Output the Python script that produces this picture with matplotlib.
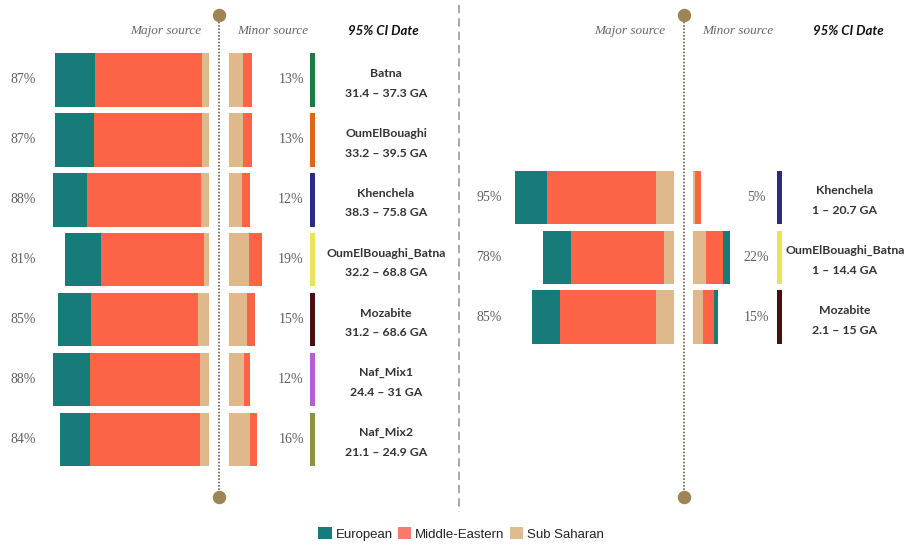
# 混合来源比例图：左右两个面板，主/次来源堆叠条形 + 时间区间标签
import matplotlib.pyplot as plt
from matplotlib.patches import Patch
from matplotlib.lines import Line2D

plt.rcParams['font.family'] = ['Liberation Sans', 'DejaVu Sans']

# ---------------- 数据 ----------------
components = ['European', 'Middle-Eastern', 'Sub Saharan']
comp_colors = {'European': '#177b79', 'Middle-Eastern': '#fd6346', 'Sub Saharan': '#dfb98c'}
legend_colors = ['#177b79', '#f57b6b', '#e0bb8e']

# 左面板
left_names = ['Batna', 'OumElBouaghi', 'Khenchela', 'OumElBouaghi_Batna',
              'Mozabite', 'Naf_Mix1', 'Naf_Mix2']
left_dates = ['31.4 – 37.3 GA', '33.2 – 39.5 GA', '38.3 – 75.8 GA', '32.2 – 68.8 GA',
              '31.2 – 68.6 GA', '24.4 – 31 GA', '21.1 – 24.9 GA']
left_major_pct = [87, 87, 88, 81, 85, 88, 84]
left_minor_pct = [13, 13, 12, 19, 15, 12, 16]
# 主来源组成 (European, Middle-Eastern, Sub Saharan)
left_major_euro = [23, 22, 19, 20, 18.5, 21, 17]
left_major_me = [60, 61, 64.5, 58, 60, 61.6, 61.7]
left_major_ss = [4, 4, 4.5, 3, 6.5, 5.4, 5.3]
# 次来源组成
left_minor_ss = [8, 8, 7.8, 11.2, 10.5, 8.8, 12.2]
left_minor_me = [5, 5, 4.2, 7.8, 4.5, 3.2, 3.8]
left_minor_euro = [0, 0, 0, 0, 0, 0, 0]
left_tag_colors = ['#1f7a42', '#d8691c', '#2d2a82', '#ece25c', '#4a0f0e', '#b55fd2', '#8d9441']

# 右面板
right_names = ['Khenchela', 'OumElBouaghi_Batna', 'Mozabite']
right_dates = ['1 – 20.7 GA', '1 – 14.4 GA', '2.1 – 15 GA']
right_major_pct = [95, 78, 85]
right_minor_pct = [5, 22, 15]
right_major_euro = [18.9, 16.3, 16.9]
right_major_me = [65.3, 55.4, 57.4]
right_major_ss = [10.8, 6.3, 10.7]
right_minor_ss = [1.2, 7.8, 6.4]
right_minor_me = [3.8, 10.3, 6.3]
right_minor_euro = [0, 3.9, 2.3]
right_tag_colors = ['#2d2a82', '#ece25c', '#4a0f0e']
right_row_start = 2  # 右面板从第3行开始

# ---------------- 绘图 ----------------
fig = plt.figure(figsize=(9.06, 5.48), dpi=100)
W, H = 906, 548
split_x = 459
row0_px, row_px = 80, 59.9
ylim = ((H - row0_px) / row_px, -row0_px / row_px)
bar_h = 0.893
gap = 5.4
dot_color = '#9f8454'
gray = '#5f5f5f'


def draw_panel(ax, rows, names, dates, major_pct, minor_pct,
               maj_eu, maj_me, maj_ss, min_ss, min_me, min_eu, tag_colors,
               pct_x, minor_pct_x, tag_x, label_x):
    for i, y in enumerate(rows):
        # 主来源：从中心线向左堆叠 (SS 最靠近中心)
        total = maj_eu[i] + maj_me[i] + maj_ss[i]
        start = -gap - total
        for val, comp in zip([maj_eu[i], maj_me[i], maj_ss[i]], components):
            ax.barh(y, val, left=start, height=bar_h, color=comp_colors[comp], linewidth=0)
            start += val
        # 次来源：从中心线向右堆叠
        start = gap
        for val, comp in zip([min_ss[i], min_me[i], min_eu[i]],
                             ['Sub Saharan', 'Middle-Eastern', 'European']):
            if val > 0:
                ax.barh(y, val, left=start, height=bar_h, color=comp_colors[comp], linewidth=0)
            start += val
        ax.text(pct_x, y, f'{major_pct[i]}%', ha='center', va='center',
                family='Liberation Serif', fontsize=10, color=gray)
        ax.text(minor_pct_x, y, f'{minor_pct[i]}%', ha='center', va='center',
                family='Liberation Serif', fontsize=10, color=gray)
        ax.barh(y, 2.8, left=tag_x, height=bar_h, color=tag_colors[i], linewidth=0)
        ax.text(label_x, y - 0.11, names[i], ha='center', va='center',
                family=['Lato', 'DejaVu Sans'], fontweight='bold', fontsize=8.8, color='#333333')
        ax.text(label_x, y + 0.22, dates[i], ha='center', va='center',
                family=['Lato', 'DejaVu Sans'], fontweight='bold', fontsize=8.8, color='#333333')

    # 中心虚线与端点圆点
    top, bottom = -1.085, 6.96
    ax.plot([0, 0], [top, bottom], color='#6e5e4a', linestyle=(0, (1, 1)), linewidth=1.2)
    ax.scatter([0, 0], [top, bottom], s=75, color=dot_color, zorder=5)
    ax.set_ylim(*ylim)
    ax.axis('off')


# 左面板
axL = fig.add_axes([0, 0, split_x / W, 1])
sL = 1.78
cL = 219
axL.set_xlim(-cL / sL, (split_x - cL) / sL)
draw_panel(axL, list(range(len(left_names))), left_names, left_dates,
           left_major_pct, left_minor_pct, left_major_euro, left_major_me, left_major_ss,
           left_minor_ss, left_minor_me, left_minor_euro, left_tag_colors,
           pct_x=(23 - cL) / sL, minor_pct_x=(291 - cL) / sL,
           tag_x=(310 - cL) / sL, label_x=(386 - cL) / sL)
hy = (31 - row0_px) / row_px
axL.text((166 - cL) / sL, hy, 'Major source', ha='center', va='center',
         family='Liberation Serif', style='italic', fontsize=9.5, color='#666666')
axL.text((273 - cL) / sL, hy, 'Minor source', ha='center', va='center',
         family='Liberation Serif', style='italic', fontsize=9.5, color='#666666')
axL.text((383 - cL) / sL, hy, '95% CI Date', ha='center', va='center',
         family=['Lato', 'DejaVu Sans'], style='italic', fontweight='bold', fontsize=9.5, color='#111111')

# 右面板
axR = fig.add_axes([split_x / W, 0, (W - split_x) / W, 1])
sR = 1.68
cR = 683.5
axR.set_xlim(-(cR - split_x) / sR, (W - cR) / sR)
right_rows = [right_row_start + i - 0.04 for i in range(len(right_names))]
draw_panel(axR, right_rows, right_names, right_dates,
           right_major_pct, right_minor_pct, right_major_euro, right_major_me, right_major_ss,
           right_minor_ss, right_minor_me, right_minor_euro, right_tag_colors,
           pct_x=(489 - cR) / sR, minor_pct_x=(756 - cR) / sR,
           tag_x=(777 - cR) / sR, label_x=(845 - cR) / sR)
axR.text((630 - cR) / sR, hy, 'Major source', ha='center', va='center',
         family='Liberation Serif', style='italic', fontsize=9.5, color='#666666')
axR.text((738 - cR) / sR, hy, 'Minor source', ha='center', va='center',
         family='Liberation Serif', style='italic', fontsize=9.5, color='#666666')
axR.text((848 - cR) / sR, hy, '95% CI Date', ha='center', va='center',
         family=['Lato', 'DejaVu Sans'], style='italic', fontweight='bold', fontsize=9.5, color='#111111')

# 两个面板之间的灰色虚线
fig.add_artist(Line2D([split_x / W, split_x / W], [1 - 5 / H, 1 - 512 / H],
                      transform=fig.transFigure, color='#9a9a9a',
                      linestyle=(0, (5, 3)), linewidth=1.2))

# 图例
handles = [Patch(facecolor=c, edgecolor='none', label=n) for c, n in zip(legend_colors, components)]
fig.legend(handles=handles, loc='center', bbox_to_anchor=(461 / W, 1 - 534 / H), ncol=3,
           frameon=False, fontsize=9.5, handlelength=1.0, handleheight=1.0,
           handletextpad=0.3, columnspacing=0.4, labelcolor='#222222')

plt.savefig('out.png', dpi=100)
